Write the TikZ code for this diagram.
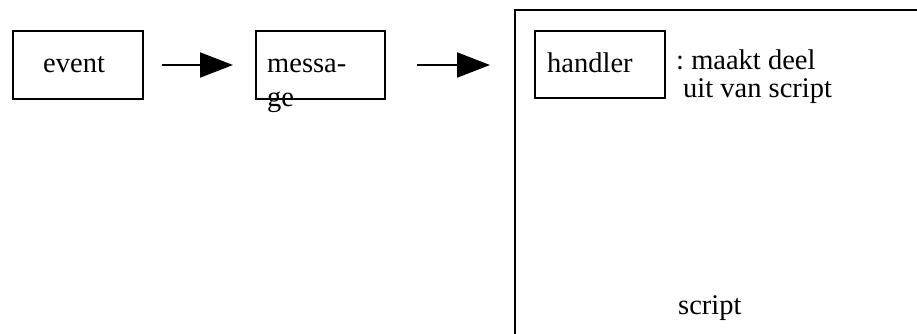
\documentclass[tikz,border=0pt]{standalone}
\usepackage{fontspec}
\setmainfont{Liberation Serif}
\usetikzlibrary{arrows.meta}
\frenchspacing

\tikzset{
  box/.style={draw, line width=2pt, rectangle, inner sep=0pt, anchor=north west},
  txt/.style={inner sep=0pt, anchor=base west, font=\fontsize{28.5}{34}\selectfont},
  flow/.style={line width=2pt, -{Triangle[length=33pt,width=25pt]}},
}

\begin{document}
\begin{tikzpicture}[x=1pt, y=-1pt]
  \useasboundingbox (0,0) rectangle (917,333);
  \clip (0,0) rectangle (917,333);

  % outer script frame, running off the page to the right and bottom
  \node[box, minimum width=430pt, minimum height=360pt] (scriptbox) at (514,9) {};

  % the three boxes
  \node[box, minimum width=130pt, minimum height=68pt] (event) at (12,30) {};
  \node[box, minimum width=129pt, minimum height=68pt] (message) at (255,30) {};
  \node[box, minimum width=130pt, minimum height=67pt] (handler) at (534,30) {};

  % labels
  \node[txt] (eventlbl) at (43,72) {event};
  \node[txt] (msglbl1) at (267,72) {messa-};
  \node[txt] (msglbl2) at (267,106) {ge};
  \node[txt] (handlerlbl) at (547,72) {handler};
  \node[txt] (note1) at (676,69) {: maakt deel};
  \node[txt] (note2) at (683,97) {uit van script};
  \node[txt] (scriptlbl) at (678,314) {script};

  % flow arrows
  \draw[flow, shorten <=18pt, shorten >=22pt] (event.east) -- (message.west |- event.east);
  \draw[flow, shorten <=31pt, shorten >=24pt] (message.east) -- (scriptbox.west |- message.east);
\end{tikzpicture}
\end{document}
